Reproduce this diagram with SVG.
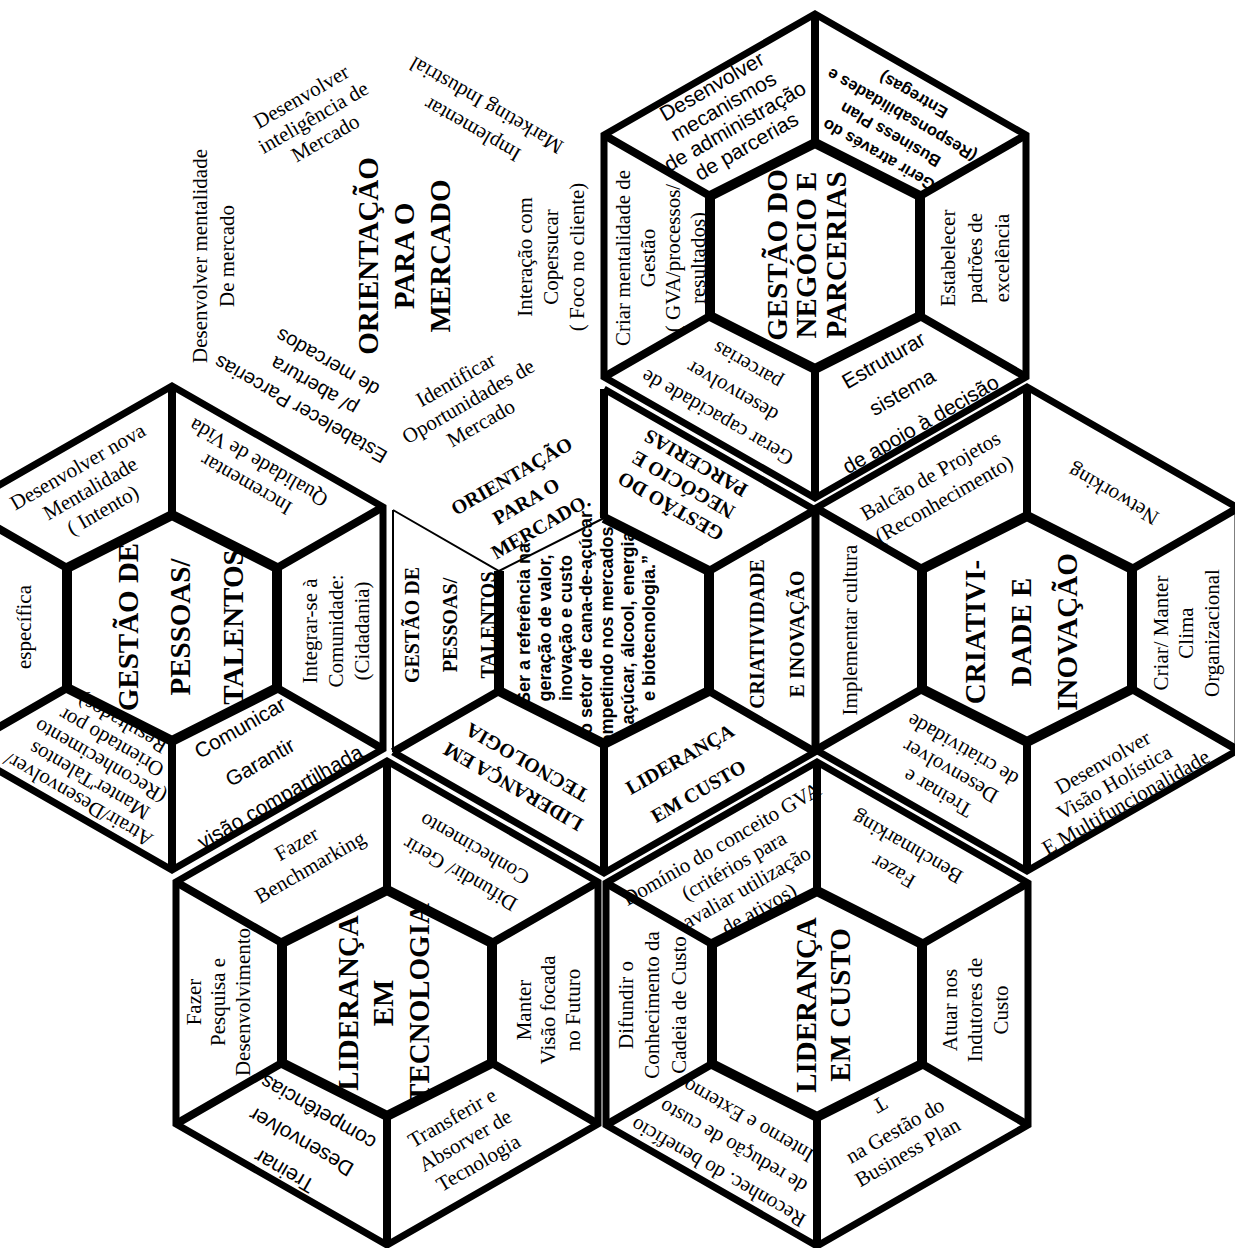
<svg xmlns="http://www.w3.org/2000/svg" width="1235" height="1248" viewBox="0 0 1235 1248">
<style>
.o{fill:none;stroke:#000;stroke-width:7;stroke-linejoin:miter}
.i{fill:none;stroke:#000;stroke-width:10;stroke-linejoin:miter}
.k{fill:none;stroke:#000;stroke-width:8}
.t{fill:none;stroke:#000;stroke-width:2}
.w{fill:#fff;stroke:none}
text{text-anchor:middle;fill:#000}
.s{font-family:"Liberation Serif","Times New Roman",serif;font-size:21px}
.a{font-family:"Liberation Sans",Arial,sans-serif;font-size:21px}
.b{font-family:"Liberation Serif","Times New Roman",serif;font-weight:bold;font-size:20px}
.B{font-family:"Liberation Serif","Times New Roman",serif;font-weight:bold;font-size:29px}
.ab{font-family:"Liberation Sans",Arial,sans-serif;font-weight:bold;font-size:16.5px}
.v{font-family:"Liberation Sans",Arial,sans-serif;font-weight:bold;font-size:18px}
.a20{font-family:"Liberation Sans",Arial,sans-serif;font-size:20px}
</style>
<rect width="1235" height="1248" fill="#fff"/>

<g id="orientacao-mercado">
<text class="B" transform="translate(404,256) rotate(-90)"><tspan x="0" y="-25.9">ORIENTAÇÃO</tspan><tspan x="0" y="10.1">PARA O</tspan><tspan x="0" y="46.1">MERCADO</tspan></text>
<text class="s" transform="translate(313,117) rotate(-30)"><tspan x="0" y="-16.6">Desenvolver</tspan><tspan x="0" y="7.4">inteligência de</tspan><tspan x="0" y="31.4">Mercado</tspan></text>
<text class="s" transform="translate(479,118) rotate(210)"><tspan x="0" y="-6.6">Implementar</tspan><tspan x="0" y="21.4">Marketing Industrial</tspan></text>
<text class="s" transform="translate(551,257) rotate(-90)"><tspan x="0" y="-18.6">Interação com</tspan><tspan x="0" y="7.4">Copersucar</tspan><tspan x="0" y="33.4">( Foco no cliente)</tspan></text>
<text class="s" transform="translate(468,401) rotate(-30)"><tspan x="0" y="-17.6">Identificar</tspan><tspan x="0" y="7.4">Oportunidades de</tspan><tspan x="0" y="32.4">Mercado</tspan></text>
<text class="a20" transform="translate(314,386) rotate(210)"><tspan x="0" y="-20">Estabelecer Parcerias</tspan><tspan x="0" y="7">p/ abertura</tspan><tspan x="0" y="34">de mercados</tspan></text>
<text class="s" transform="translate(213,256) rotate(-90)"><tspan x="0" y="-6.1">Desenvolver mentalidade</tspan><tspan x="0" y="20.9">De mercado</tspan></text>
</g>

<g id="gestao-negocio-parcerias">
<polygon class="o" points="815,14 1026,135 1026,377 815,498 604,377 604,135"/>
<polygon class="i" points="815,143 920,196 920,316 815,369 710,316 710,196"/>
<path class="k" d="M815,14V143M1026,135L920,196M1026,377L920,316M815,498V369M604,377L710,316M604,135L710,196"/>
<text class="B" transform="translate(806,255) rotate(-90)"><tspan x="0" y="-19.3">GESTÃO DO</tspan><tspan x="0" y="10.2">NEGÓCIO E</tspan><tspan x="0" y="39.7">PARCERIAS</tspan></text>
<text class="a" transform="translate(729,116) rotate(-30)"><tspan x="0" y="-27.1">Desenvolver</tspan><tspan x="0" y="-4.1">mecanismos</tspan><tspan x="0" y="18.9">de administração</tspan><tspan x="0" y="41.9">de parcerias</tspan></text>
<text class="s" transform="translate(660,258) rotate(-90)"><tspan x="0" y="-30.1">Criar mentalidade de</tspan><tspan x="0" y="-5.1">Gestão</tspan><tspan x="0" y="19.9">( GVA/processos/</tspan><tspan x="0" y="44.9">resultados)</tspan></text>
<text class="s" transform="translate(732,392) rotate(210)"><tspan x="0" y="-22.6">Gerar capacidade de</tspan><tspan x="0" y="7.4">desenvolver</tspan><tspan x="0" y="37.4">parcerias</tspan></text>
<text class="a" transform="translate(902,392) rotate(-30)"><tspan x="0" y="-29.6">Estruturar</tspan><tspan x="0" y="7.4">sistema</tspan><tspan x="0" y="44.4">de apoio à decisão</tspan></text>
<text class="s" transform="translate(975,258) rotate(-90)"><tspan x="0" y="-19.6">Estabelecer</tspan><tspan x="0" y="7.4">padrões de</tspan><tspan x="0" y="34.4">excelência</tspan></text>
<text class="ab" transform="translate(896,125) rotate(210)"><tspan x="0" y="-28.7">Gerir através do</tspan><tspan x="0" y="-5.7">Business Plan</tspan><tspan x="0" y="17.3">(Responsabilidades e</tspan><tspan x="0" y="40.3">Entregas)</tspan></text>
</g>

<g id="gestao-pessoas-talentos">
<polygon class="o" points="172,386 383,507 383,749 172,870 -39,749 -39,507"/>
<polygon class="i" points="172,515 277,568 277,688 172,741 67,688 67,568"/>
<path class="k" d="M172,386V515M383,507L277,568M383,749L277,688M172,870V741M-39,749L67,688M-39,507L67,568"/>
<text class="B" transform="translate(180,627) rotate(-90)"><tspan x="0" y="-42.3">GESTÃO DE</tspan><tspan x="0" y="10.2">PESSOAS/</tspan><tspan x="0" y="62.7">TALENTOS</tspan></text>
<text class="s" transform="translate(90,488) rotate(-30)"><tspan x="0" y="-17.6">Desenvolver nova</tspan><tspan x="0" y="7.4">Mentalidade</tspan><tspan x="0" y="32.4">( Intento)</tspan></text>
<text class="s" transform="translate(252,474) rotate(210)"><tspan x="0" y="-5.1">Incrementar</tspan><tspan x="0" y="19.9">Qualidade de Vida</tspan></text>
<text class="s" transform="translate(24,627) rotate(-90)"><tspan x="0" y="7.4">específica</tspan></text>
<text class="s" transform="translate(336,631) rotate(-90)"><tspan x="0" y="-18.6">Integrar-se à</tspan><tspan x="0" y="7.4">Comunidade:</tspan><tspan x="0" y="33.4">(Cidadania)</tspan></text>
<text class="a" transform="translate(260,762) rotate(-30)"><tspan x="0" y="-32.6">Comunicar</tspan><tspan x="0" y="7.4">Garantir</tspan><tspan x="0" y="47.4">visão compartilhada</tspan></text>
<text class="s" transform="translate(100,762) rotate(210)"><tspan x="0" y="-36.6">Atrair/Desenvolver/</tspan><tspan x="0" y="-14.6">Manter'Talentos</tspan><tspan x="0" y="7.4">(Reconhecimento</tspan><tspan x="0" y="29.4">Orientado por</tspan><tspan x="0" y="51.4">Resultados)</tspan></text>
</g>

<g id="visao">
<text class="v" transform="translate(586,628) rotate(-90)"><tspan x="0" y="-56.1">“Ser a referência na</tspan><tspan x="0" y="-35.3">geração de valor,</tspan><tspan x="0" y="-14.5">inovação e custo</tspan><tspan x="0" y="6.3">no setor de cana-de-açúcar</tspan><tspan x="0" y="27.1">competindo nos mercados de</tspan><tspan x="0" y="47.9">açúcar, álcool, energia</tspan><tspan x="0" y="68.7">e biotecnologia.”</tspan></text>
<polygon class="w" points="604,389 815,510 709,571 604,518"/>
<polygon class="w" points="815,510 815,752 709,691 709,571"/>
<polygon class="w" points="815,752 604,873 604,744 709,691"/>
<polygon class="w" points="604,873 393,752 499,691 604,744"/>
<polygon class="w" points="393,752 393,510 499,571 499,691"/>
<path class="o" d="M393,752L604,873L815,752L815,510L604,389"/>
<path class="t" d="M393,510V752M393,510L499,571L604,518"/>
<path class="i" d="M604,518L709,571L709,691L604,744L499,691L499,571"/>
<path class="k" d="M604,389V518M815,510L709,571M815,752L709,691M604,873V744M393,752L499,691"/>
<text class="b" transform="translate(526,501) rotate(-30)"><tspan x="0" y="-22">ORIENTAÇÃO</tspan><tspan x="0" y="7">PARA O</tspan><tspan x="0" y="36">MERCADO.</tspan></text>
<text class="b" transform="translate(683,485) rotate(210)"><tspan x="0" y="-18">GESTÃO DO</tspan><tspan x="0" y="7">NEGÓCIO E</tspan><tspan x="0" y="32">PARCERIAS</tspan></text>
<text class="b" transform="translate(777,634) rotate(-90)"><tspan x="0" y="-13">CRIATIVIDADE</tspan><tspan x="0" y="27">E INOVAÇÃO</tspan></text>
<text class="b" transform="translate(689,775) rotate(-30)"><tspan x="0" y="-11.5">LIDERANÇA</tspan><tspan x="0" y="25.5">EM CUSTO</tspan></text>
<text class="b" transform="translate(520,775) rotate(210)"><tspan x="0" y="-7">LIDERANÇA EM</tspan><tspan x="0" y="21">TECNOLOGIA</tspan></text>
<text class="b" transform="translate(450,625) rotate(-90)"><tspan x="0" y="-31">GESTÃO DE</tspan><tspan x="0" y="7">PESSOAS/</tspan><tspan x="0" y="45">TALENTOS</tspan></text>
</g>

<g id="criatividade-inovacao">
<polygon class="o" points="1027,387 1238,508 1238,750 1027,871 816,750 816,508"/>
<polygon class="i" points="1027,516 1132,569 1132,689 1027,742 922,689 922,569"/>
<path class="k" d="M1027,387V516M1238,508L1132,569M1238,750L1132,689M1027,871V742M816,750L922,689M816,508L922,569"/>
<text class="B" transform="translate(1021,632) rotate(-90)"><tspan x="0" y="-35.8">CRIATIVI-</tspan><tspan x="0" y="10.2">DADE E</tspan><tspan x="0" y="56.2">INOVAÇÃO</tspan></text>
<text class="s" transform="translate(937,487) rotate(-30)"><tspan x="0" y="-6.1">Balcão de Projetos</tspan><tspan x="0" y="20.9">(Reconhecimento)</tspan></text>
<text class="s" transform="translate(1113,495) rotate(210)"><tspan x="0" y="7.4">Networking</tspan></text>
<text class="s" transform="translate(850,630) rotate(-90)"><tspan x="0" y="7.4">Implementar cultura</tspan></text>
<text class="s" transform="translate(1186,633) rotate(-90)"><tspan x="0" y="-18.1">Criar/ Manter</tspan><tspan x="0" y="7.4">Clima</tspan><tspan x="0" y="32.9">Organizacional</tspan></text>
<text class="s" transform="translate(950,772) rotate(210)"><tspan x="0" y="-17.6">Treinar e</tspan><tspan x="0" y="7.4">Desenvolver</tspan><tspan x="0" y="32.4">de criatividade</tspan></text>
<text class="s" transform="translate(1114,782) rotate(-30)"><tspan x="0" y="-15.6">Desenvolver</tspan><tspan x="0" y="7.4">Visão Holística</tspan><tspan x="0" y="30.4">E Multifuncionalidade</tspan></text>
</g>

<g id="lideranca-tecnologia">
<polygon class="o" points="387,761 598,882 598,1124 387,1245 176,1124 176,882"/>
<polygon class="i" points="387,890 492,943 492,1063 387,1116 282,1063 282,943"/>
<path class="k" d="M387,761V890M598,882L492,943M598,1124L492,1063M387,1245V1116M176,1124L282,1063M176,882L282,943"/>
<text class="B" transform="translate(383,1003) rotate(-90)"><tspan x="0" y="-25.3">LIDERANÇA</tspan><tspan x="0" y="10.2">EM</tspan><tspan x="0" y="45.7">TECNOLOGIA</tspan></text>
<text class="s" transform="translate(303,855) rotate(-30)"><tspan x="0" y="-6.1">Fazer</tspan><tspan x="0" y="20.9">Benchmarking</tspan></text>
<text class="s" transform="translate(467,862) rotate(210)"><tspan x="0" y="-7.1">Difundir/ Gerir</tspan><tspan x="0" y="21.9">Conhecimento</tspan></text>
<text class="s" transform="translate(218,1002) rotate(-90)"><tspan x="0" y="-17.1">Fazer</tspan><tspan x="0" y="7.4">Pesquisa e</tspan><tspan x="0" y="31.9">Desenvolvimento</tspan></text>
<text class="s" transform="translate(548,1010) rotate(-90)"><tspan x="0" y="-17.1">Manter</tspan><tspan x="0" y="7.4">Visão focada</tspan><tspan x="0" y="31.9">no Futuro</tspan></text>
<text class="s" transform="translate(465,1140) rotate(-30)"><tspan x="0" y="-18.6">Transferir e</tspan><tspan x="0" y="7.4">Absorver de</tspan><tspan x="0" y="33.4">Tecnologia</tspan></text>
<text class="a" transform="translate(301,1142) rotate(210)"><tspan x="0" y="-26.6">Treinar</tspan><tspan x="0" y="7.4">Desenvolver</tspan><tspan x="0" y="41.4">competências</tspan></text>
</g>

<g id="lideranca-custo">
<polygon class="o" points="817,762 1028,883 1028,1125 817,1246 606,1125 606,883"/>
<polygon class="i" points="817,891 922,944 922,1064 817,1117 712,1064 712,944"/>
<path class="k" d="M817,762V891M1028,883L922,944M1028,1125L922,1064M817,1246V1117M606,1125L712,1064M606,883L712,944"/>
<text class="B" transform="translate(823,1005) rotate(-90)"><tspan x="0" y="-6.8">LIDERANÇA</tspan><tspan x="0" y="27.2">EM CUSTO</tspan></text>
<text class="s" transform="translate(740,876) rotate(-30)"><tspan x="0" y="-30.1">Domínio do conceito GVA</tspan><tspan x="0" y="-5.1">(critérios para</tspan><tspan x="0" y="19.9">avaliar utilização</tspan><tspan x="0" y="44.9">de ativos)</tspan></text>
<text class="s" transform="translate(900,860) rotate(210)"><tspan x="0" y="-6.6">Fazer</tspan><tspan x="0" y="21.4">Benchmarking</tspan></text>
<text class="s" transform="translate(652,1005) rotate(-90)"><tspan x="0" y="-19.1">Difundir o</tspan><tspan x="0" y="7.4">Conhecimento da</tspan><tspan x="0" y="33.9">Cadeia de Custo</tspan></text>
<text class="s" transform="translate(975,1010) rotate(-90)"><tspan x="0" y="-18.1">Atuar nos</tspan><tspan x="0" y="7.4">Indutores de</tspan><tspan x="0" y="32.9">Custo</tspan></text>
<text class="s" transform="translate(880,1105) rotate(150)"><tspan x="0" y="7.4">T</tspan></text>
<text class="s" transform="translate(901,1141) rotate(-30)"><tspan x="0" y="-5.1">na Gestão do</tspan><tspan x="0" y="19.9">Business Plan</tspan></text>
<text class="s" transform="translate(733,1147) rotate(210)"><tspan x="0" y="-22.6">Reconhec. do benefício</tspan><tspan x="0" y="7.4">de redução de custo</tspan><tspan x="0" y="37.4">Interno e Externo</tspan></text>
</g>

<g id="connectors"></g>
</svg>
